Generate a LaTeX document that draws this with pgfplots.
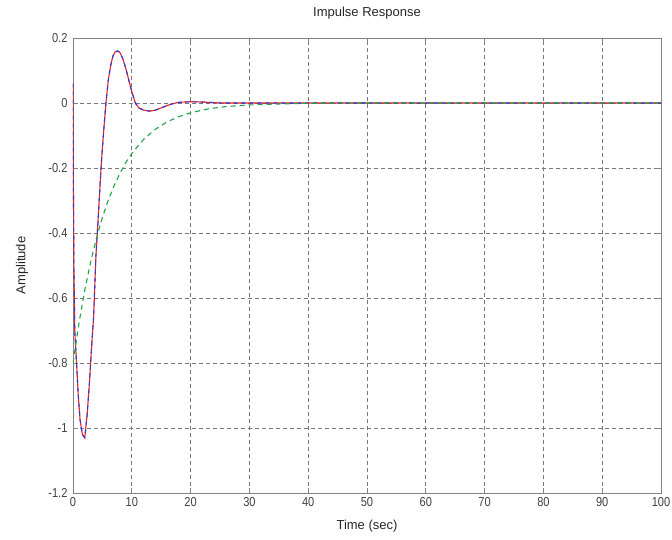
\documentclass[border=0pt]{standalone}
\usepackage{pgfplots}
\pgfplotsset{compat=1.18}
\usepackage{fontspec}
\setmainfont{Liberation Sans}
\newfontfamily\tickfont[FakeStretch=0.85]{Liberation Sans}
\definecolor{mred}{RGB}{245,30,30}
\definecolor{mblue}{RGB}{40,60,220}
\definecolor{mgreen}{RGB}{30,165,70}
\definecolor{mgrid}{RGB}{120,120,120}
\definecolor{mbox}{RGB}{130,130,130}
\begin{document}
\begin{tikzpicture}
\path[use as bounding box] (-73pt,-46pt) rectangle (599pt,493pt);
\begin{axis}[
  at={(0pt,0pt)}, anchor=south west,
  scale only axis, width=588pt, height=455pt,
  xmin=0, xmax=100, ymin=-1.2, ymax=0.2,
  xtick={0,10,...,100},
  ytick={-1.2,-1,-0.8,-0.6,-0.4,-0.2,0,0.2},
  yticklabels={-1.2,-1,-0.8,-0.6,-0.4,-0.2,0,0.2},
  xticklabels={0,10,20,30,40,50,60,70,80,90,100},
  tick align=inside, major tick length=5pt,
  tick style={mbox, line width=0.8pt},
  axis line style={mbox, line width=0.9pt},
  grid=major,
  major grid style={mgrid, line width=0.8pt, dash pattern=on 4pt off 3pt},
  ticklabel style={font=\tickfont\fontsize{13}{15}\selectfont, text=black!75},
  yticklabel style={xshift=-2pt},
  xticklabel style={yshift=-1pt},
  title={Impulse Response},
  title style={at={(0.5,1)}, anchor=center, yshift=19pt, font=\fontsize{13}{15}\selectfont, text=black!85},
  xlabel={Time (sec)},
  xlabel style={at={(0.5,0)}, anchor=center, yshift=-33pt, font=\fontsize{13}{15}\selectfont, text=black!85},
  ylabel={Amplitude},
  ylabel style={at={(0,0.5)}, anchor=center, yshift=51pt, font=\fontsize{13}{15}\selectfont, text=black!85},
]
\addplot[mred, line width=1.1pt] coordinates {
(0,0.06) (0.05,-0.2) (0.15,-0.5) (0.3,-0.7) (0.6,-0.8) (0.9,-0.9) (1.2,-0.975)
(1.6,-1.02) (2.0,-1.03) (2.4,-0.96) (2.8,-0.86) (3.2,-0.74) (3.5,-0.66) (3.9,-0.47)
(4.3,-0.35) (4.8,-0.19) (5.2,-0.09) (5.6,0.0) (6.0,0.07) (6.4,0.115) (6.8,0.145)
(7.2,0.158) (7.6,0.16) (8.0,0.155) (8.5,0.135) (9.0,0.105) (9.5,0.07) (10.0,0.035)
(10.6,0.0) (11.2,-0.015) (12.0,-0.022) (13.0,-0.025) (14.0,-0.022) (15.0,-0.015)
(16.0,-0.008) (17.0,-0.002) (18.0,0.002) (20.0,0.004) (22.0,0.003) (25.0,0.0) (100,0)
};
\addplot[mblue, line width=1.1pt, dash pattern=on 4pt off 4pt] coordinates {
(0,0.06) (0.05,-0.2) (0.15,-0.5) (0.3,-0.7) (0.6,-0.8) (0.9,-0.9) (1.2,-0.975)
(1.6,-1.02) (2.0,-1.03) (2.4,-0.96) (2.8,-0.86) (3.2,-0.74) (3.5,-0.66) (3.9,-0.47)
(4.3,-0.35) (4.8,-0.19) (5.2,-0.09) (5.6,0.0) (6.0,0.07) (6.4,0.115) (6.8,0.145)
(7.2,0.158) (7.6,0.16) (8.0,0.155) (8.5,0.135) (9.0,0.105) (9.5,0.07) (10.0,0.035)
(10.6,0.0) (11.2,-0.015) (12.0,-0.022) (13.0,-0.025) (14.0,-0.022) (15.0,-0.015)
(16.0,-0.008) (17.0,-0.002) (18.0,0.002) (20.0,0.004) (22.0,0.003) (25.0,0.0) (100,0)
};
\addplot[mgreen, line width=1.1pt, dash pattern=on 5pt off 4pt] coordinates {
(0,-0.800) (1,-0.679) (2,-0.576) (3,-0.489) (4,-0.415) (5,-0.352) (6,-0.299)
(7,-0.254) (8,-0.216) (9,-0.183) (10,-0.155) (12,-0.112) (14,-0.081) (16,-0.058)
(18,-0.042) (20,-0.030) (23,-0.018) (26,-0.011) (30,-0.006) (35,-0.003) (40,-0.001)
(50,0) (100,0)
};
\end{axis}
\end{tikzpicture}
\end{document}
